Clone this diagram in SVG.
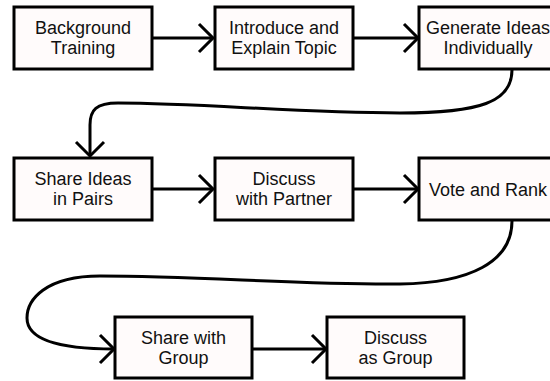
<svg xmlns="http://www.w3.org/2000/svg" width="550" height="381" viewBox="0 0 550 381">
<defs>
<marker id="chev" viewBox="-16 -16 20 32" markerWidth="20" markerHeight="32" refX="0" refY="0" orient="auto" markerUnits="userSpaceOnUse">
<path d="M-14,-14 L0,0 L-14,14" fill="none" stroke="#000" stroke-width="3"/>
</marker>
<style>
.box{fill:#fffbfb;stroke:#000;stroke-width:3}
.t{font-family:"Liberation Sans",Arial,sans-serif;font-size:18px;fill:#111;text-anchor:middle}
.c{fill:none;stroke:#000;stroke-width:3;marker-end:url(#chev)}
</style>
</defs>
<rect width="550" height="381" fill="#fff"/>
<g id="connectors">
<path class="c" d="M152,38 L213,38"/>
<path class="c" d="M353,38 L418,38"/>
<path class="c" d="M512,70 C512,102 480,113 400,113 C300,113 200,103 118,103 C96,103 90,110 90,125 L90,156"/>
<path class="c" d="M152,189 L213,189"/>
<path class="c" d="M353,189 L418,189"/>
<path class="c" d="M512,221 C512,262 470,283 400,284 C300,285 200,276 100,276 C45,276 27,300 27,318 C27,340 60,349 114,349"/>
<path class="c" d="M252,349 L326,349"/>
</g>
<g id="n1"><rect class="box" x="14" y="7" width="138" height="62"/><text class="t" x="83" y="34">Background</text><text class="t" x="83" y="54">Training</text></g>
<g id="n2"><rect class="box" x="215" y="7" width="138" height="62"/><text class="t" x="284" y="34">Introduce and</text><text class="t" x="284" y="54">Explain Topic</text></g>
<g id="n3"><rect class="box" x="419" y="7" width="138" height="62"/><text class="t" x="488" y="34">Generate Ideas</text><text class="t" x="488" y="54">Individually</text></g>
<g id="n4"><rect class="box" x="14" y="158" width="138" height="62"/><text class="t" x="83" y="185">Share Ideas</text><text class="t" x="83" y="205">in Pairs</text></g>
<g id="n5"><rect class="box" x="215" y="158" width="138" height="62"/><text class="t" x="284" y="185">Discuss</text><text class="t" x="284" y="205">with Partner</text></g>
<g id="n6"><rect class="box" x="419" y="158" width="138" height="62"/><text class="t" x="488" y="196">Vote and Rank</text></g>
<g id="n7"><rect class="box" x="115" y="317" width="137" height="61"/><text class="t" x="183.5" y="344">Share with</text><text class="t" x="183.5" y="364">Group</text></g>
<g id="n8"><rect class="box" x="327" y="317" width="137" height="61"/><text class="t" x="395.5" y="344">Discuss</text><text class="t" x="395.5" y="364">as Group</text></g>
</svg>
